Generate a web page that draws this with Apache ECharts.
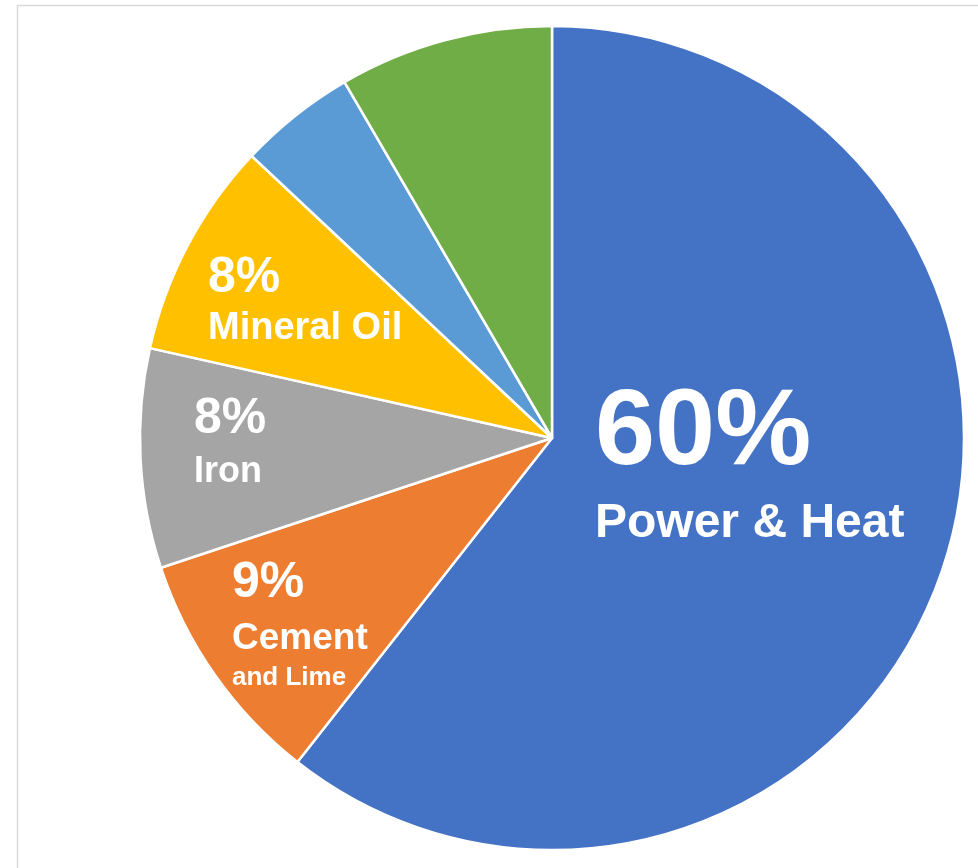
<!DOCTYPE html>
<html>
<head>
<meta charset="utf-8">
<script src="https://cdn.jsdelivr.net/npm/echarts@6/dist/echarts.min.js"></script>
<style>
html,body{margin:0;padding:0;background:#fff;}
#chart{width:978px;height:868px;}
</style>
</head>
<body>
<div id="chart"></div>
<script>
// Data
var categories = ['Power & Heat', 'Cement and Lime', 'Iron', 'Mineral Oil', 'Other 1', 'Other 2'];
var values = [60.6, 9.3, 8.6, 8.5, 4.6, 8.4];
var pctLabels = ['60%', '9%', '8%', '8%', '', ''];
var nameLines = [['Power & Heat'], ['Cement', 'and Lime'], ['Iron'], ['Mineral Oil'], [], []];
var colors = ['#4472C4', '#ED7D31', '#A5A5A5', '#FFC000', '#5B9BD5', '#70AD47'];

// Label placement (layout only)
var labelPos = [[595, 381], [232, 555], [194, 391], [208, 250], null, null];
var styleSets = [
  ['big', 'nameL'],
  ['pct', 'nameC', 'small'],
  ['pct', 'nameI'],
  ['pct', 'nameM']
];

var chart = echarts.init(document.getElementById('chart'));
var font = '"Liberation Sans", Arial, sans-serif';
var option = {
  animation: false,
  backgroundColor: '#ffffff',
  graphic: [{
    type: 'rect',
    shape: { x: 17.5, y: 5.5, width: 1100, height: 1000 },
    style: { fill: 'none', stroke: '#d9d9d9', lineWidth: 1.5 },
    silent: true
  }],
  series: [{
    type: 'pie',
    center: [552, 438],
    radius: [0, 412],
    startAngle: 90,
    clockwise: true,
    avoidLabelOverlap: false,
    itemStyle: { borderColor: '#ffffff', borderWidth: 2.5 },
    label: {
      show: true,
      position: 'inside',
      color: '#ffffff',
      fontFamily: font,
      fontWeight: 'bold',
      align: 'left',
      formatter: function (p) {
        var i = p.dataIndex;
        if (!pctLabels[i]) return '';
        var st = styleSets[i];
        var parts = ['{' + st[0] + '|' + pctLabels[i] + '}'];
        nameLines[i].forEach(function (t, k) {
          parts.push('{' + st[k + 1] + '|' + t + '}');
        });
        return parts.join('\n');
      },
      rich: {
        big: { fontSize: 108, lineHeight: 107, fontWeight: 'bold', color: '#fff', fontFamily: font },
        nameL: { fontSize: 48, lineHeight: 72, fontWeight: 'bold', color: '#fff', fontFamily: font },
        pct: { fontSize: 50, lineHeight: 56, fontWeight: 'bold', color: '#fff', fontFamily: font },
        nameM: { fontSize: 38, lineHeight: 46, fontWeight: 'bold', color: '#fff', fontFamily: font },
        nameI: { fontSize: 36, lineHeight: 50, fontWeight: 'bold', color: '#fff', fontFamily: font },
        nameC: { fontSize: 37, lineHeight: 56, fontWeight: 'bold', color: '#fff', fontFamily: font },
        small: { fontSize: 26, lineHeight: 22, fontWeight: 'bold', color: '#fff', fontFamily: font }
      }
    },
    labelLine: { show: false },
    labelLayout: function (params) {
      var pos = labelPos[params.dataIndex];
      if (!pos) return {};
      return { x: pos[0], y: pos[1], align: 'left', verticalAlign: 'top' };
    },
    emphasis: { disabled: true },
    data: categories.map(function (c, i) {
      return { name: c, value: values[i], itemStyle: { color: colors[i] } };
    })
  }]
};
chart.setOption(option);
</script>
</body>
</html>
